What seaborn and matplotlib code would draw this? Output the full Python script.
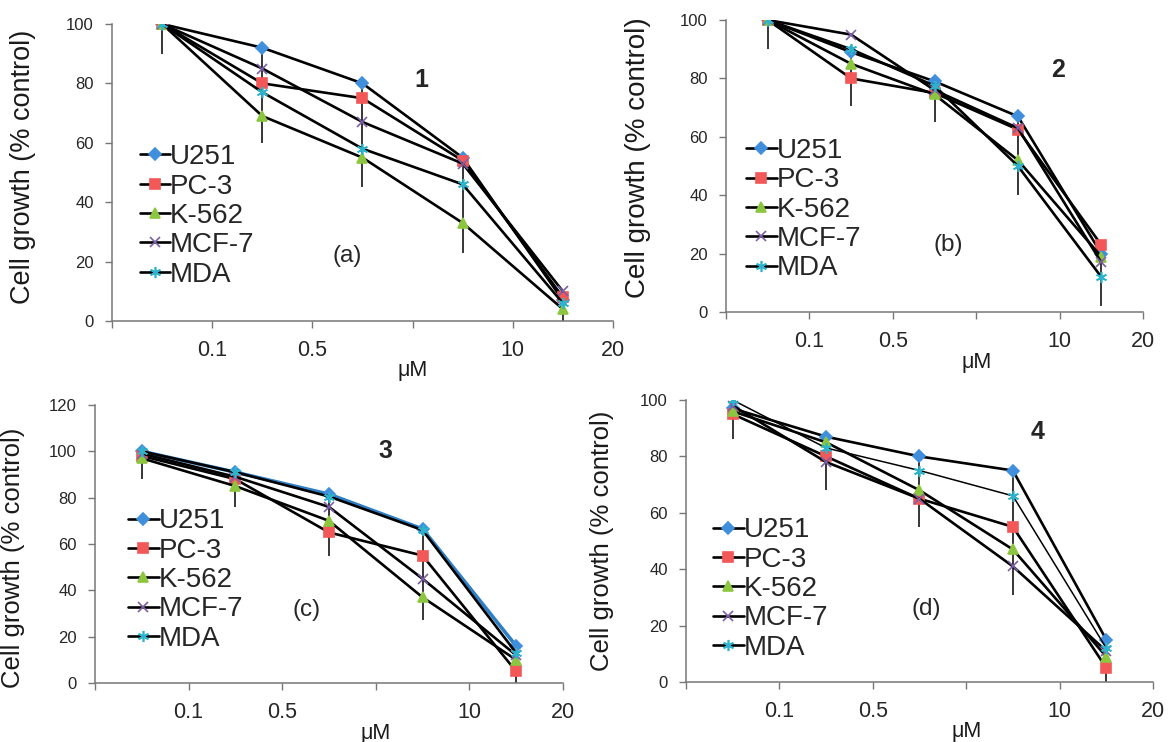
import numpy as np
import pandas as pd
import matplotlib
matplotlib.use("Agg")
import matplotlib.pyplot as plt
import seaborn as sns

# cell lines and x axis labels
cell_lines = ["U251", "PC-3", "K-562", "MCF-7", "MDA"]
tick_labels = ["", "0.1", "0.5", "", "10", "20"]

# compound 1 (a)
a_u251 = [100, 92, 80, 55, 7]
a_pc3 = [100, 80, 75, 54, 8]
a_k562 = [100, 69, 55, 33, 4]
a_mcf7 = [100, 85, 67, 53, 10]
a_mda = [100, 77, 58, 46, 6]
a_err = [10, 32, 35, 32, 7]

# compound 2 (b)
b_u251 = [100, 89, 79, 67, 20]
b_pc3 = [100, 80, 75, 62.5, 23]
b_k562 = [100, 85, 74.5, 52, 19]
b_mcf7 = [100, 95, 76, 63, 17]
b_mda = [100, 90, 77.5, 50, 12]
b_err = [10, 18.5, 14, 27, 18]

# compound 3 (c)
c_u251 = [100, 91, 81.5, 66.5, 16]
c_pc3 = [98, 88, 65, 55, 5]
c_k562 = [97, 85, 70, 37, 10]
c_mcf7 = [99, 89, 76, 45, 12]
c_mda = [100, 91, 80.5, 66, 13]
c_err = [12, 15, 26.5, 39.5, 16]

# compound 4 (d)
d_u251 = [97, 87, 80, 75, 15]
d_pc3 = [95, 80, 65, 55, 5]
d_k562 = [96, 85, 68, 47, 9]
d_mcf7 = [98, 78, 65, 41, 11]
d_mda = [100, 83, 75, 66, 12]
d_err = [11, 19, 25, 44, 15]

colors = ["#3f8fdc", "#f25858", "#8cc63e", "#7d5fa5", "#2db4cc"]
markers = ["D", "s", "^", "x", (6, 2, 0)]
msizes = [6, 7, 7, 7, 8]

sns.set_theme(style="ticks")
plt.rcParams["font.family"] = ["Liberation Sans", "DejaVu Sans"]

fig = plt.figure(figsize=(11.74, 7.42), dpi=100)

panels = [
    dict(rect=[0.0954, 0.5674, 0.4267, 0.4003], ymax=100,
         series=[a_u251, a_pc3, a_k562, a_mcf7, a_mda], err=a_err,
         num="1", num_xy=(3.09, 81), tag="(a)", tag_xy=(2.35, 22),
         leg=(0.055, 0.354), ylab_x=-0.152, ylab_y=0.52, ylab_fs=19.5),
    dict(rect=[0.6184, 0.5795, 0.3552, 0.3935], ymax=100,
         series=[b_u251, b_pc3, b_k562, b_mcf7, b_mda], err=b_err,
         num="2", num_xy=(3.98, 83), tag="(b)", tag_xy=(2.66, 23),
         leg=(0.048, 0.35), ylab_x=-0.18, ylab_y=0.53, ylab_fs=20),
    dict(rect=[0.0809, 0.0795, 0.3986, 0.3747], ymax=120,
         series=[c_u251, c_pc3, c_k562, c_mcf7, c_mda], err=c_err,
         num="3", num_xy=(3.10, 100), tag="(c)", tag_xy=(2.26, 31.5),
         leg=(0.071, 0.37), ylab_x=-0.15, ylab_y=0.45, ylab_fs=18.5),
    dict(rect=[0.5843, 0.0809, 0.3978, 0.38], ymax=100,
         series=[d_u251, d_pc3, d_k562, d_mcf7, d_mda], err=d_err,
         num="4", num_xy=(3.76, 88.7), tag="(d)", tag_xy=(2.57, 26),
         leg=(0.058, 0.33), ylab_x=-0.155, ylab_y=0.50, ylab_fs=18.5),
]

for k, p in enumerate(panels):
    ax = fig.add_axes(p["rect"])
    xpos = np.arange(len(p["series"][0])) + 0.5

    # downward error bars on the first series
    ax.errorbar(xpos, p["series"][0], yerr=[p["err"], np.zeros(len(p["err"]))],
                fmt="none", ecolor="black", elinewidth=1.1, capsize=0, zorder=1)

    for i, (name, vals) in enumerate(zip(cell_lines, p["series"])):
        df = pd.DataFrame({"x": xpos, "y": vals})
        lc = "black"
        lw = 1.9
        if k == 2 and i == 0:
            lc = "#2e7fc4"
            lw = 2.6
        if k == 3 and i == 4:
            lw = 1.1
        sns.lineplot(data=df, x="x", y="y", ax=ax, color=lc, lw=lw,
                     marker=markers[i], markersize=msizes[i],
                     markerfacecolor=colors[i], markeredgecolor=colors[i],
                     markeredgewidth=1.2, label=name, zorder=2 + i)

    ax.set_xlim(0, 5)
    ax.set_ylim(0, p["ymax"])
    ax.set_xticks(range(6))
    ax.set_xticklabels(tick_labels, fontsize=15.5)
    ax.set_yticks(np.arange(0, p["ymax"] + 1, 20))
    ax.tick_params(axis="y", labelsize=12, length=5, width=1, pad=8, color="#777777")
    ax.tick_params(axis="x", length=5, width=1, pad=9, color="#777777")
    for s in ["top", "right"]:
        ax.spines[s].set_visible(False)
    for s in ["left", "bottom"]:
        ax.spines[s].set_color("#777777")
        ax.spines[s].set_linewidth(1.1)

    ax.set_xlabel("")
    ax.set_ylabel("Cell growth (% control)", fontsize=p["ylab_fs"], color="#1a1a1a")
    ax.yaxis.set_label_coords(p["ylab_x"], p["ylab_y"])
    ax.annotate("μM", xy=(3, 0), xycoords=("data", "axes fraction"),
                xytext=(0, -36), textcoords="offset points",
                ha="center", va="center", fontsize=15.5, color="#1a1a1a")

    ax.text(p["num_xy"][0], p["num_xy"][1], p["num"], fontsize=18,
            fontweight="bold", ha="center", va="center")
    ax.text(p["tag_xy"][0], p["tag_xy"][1], p["tag"], fontsize=17.5,
            ha="center", va="center")

    leg = ax.legend(loc="center left", bbox_to_anchor=p["leg"], frameon=False,
                    fontsize=20, handlelength=1.1, handletextpad=0.0,
                    labelspacing=0.12, borderpad=0, borderaxespad=0)
    for h in leg.legend_handles:
        h.set_color("black")
        h.set_linewidth(1.9)

fig.savefig("out.png", dpi=100)
